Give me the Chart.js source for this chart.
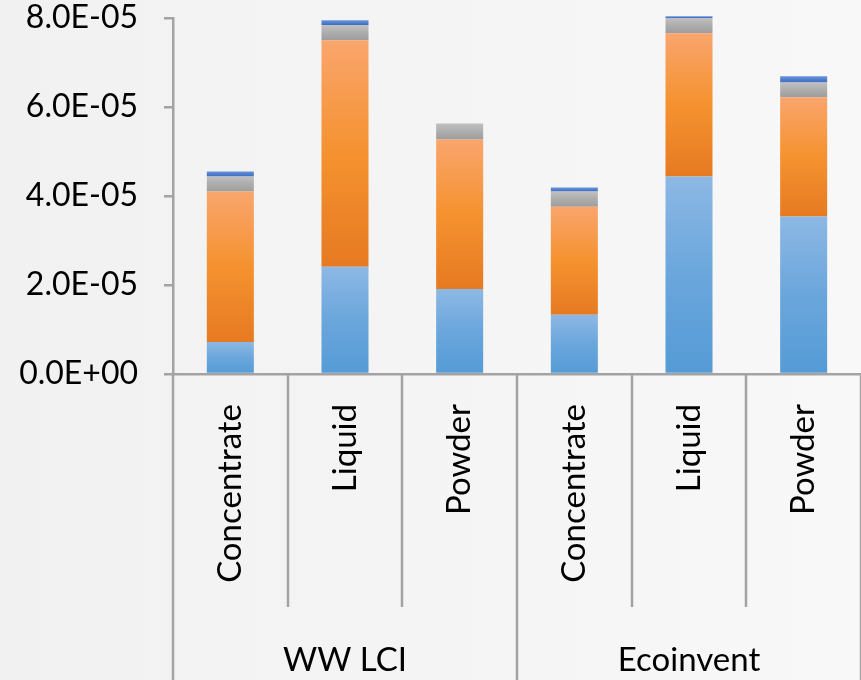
<!DOCTYPE html>
<html>
<head>
<meta charset="utf-8">
<script src="https://cdn.jsdelivr.net/npm/chart.js@4"></script>
<style>
  html, body { margin: 0; padding: 0; }
  body { width: 861px; height: 680px; overflow: hidden; }
  #wrap { position: relative; width: 861px; height: 680px; }
</style>
</head>
<body>
<div id="wrap"><canvas id="chart"></canvas></div>
<script>
// data
const categories = ["Concentrate", "Liquid", "Powder", "Concentrate", "Liquid", "Powder"];
const groups = ["WW LCI", "Ecoinvent"];
const yTicks = [0, 2e-5, 4e-5, 6e-5, 8e-5];

const series1 = [0.72e-5, 2.41e-5, 1.91e-5, 1.33e-5, 4.44e-5, 3.54e-5]; // blue
const series2 = [3.38e-5, 5.09e-5, 3.36e-5, 2.43e-5, 3.22e-5, 2.68e-5]; // orange
const series3 = [0.34e-5, 0.34e-5, 0.36e-5, 0.34e-5, 0.34e-5, 0.33e-5]; // grey
const series4 = [0.11e-5, 0.11e-5, 0, 0.09e-5, 0.04e-5, 0.14e-5];       // dark blue

const allSeries = [series1, series2, series3, series4];

const FONT = "Lato";
const axisColor = "#a3a3a3";

// office-like vertical gradient per bar segment
const gradStops = [
  ["#8db8e4", "#6aa6dc", "#559bd6"],
  ["#f9a56d", "#f5922f", "#e67a22"],
  ["#c0c0c0", "#adadad", "#9d9d9d"],
  ["#6a94db", "#4f7fcf", "#3f6dbe"],
];

function barFill(ctx) {
  const chart = ctx.chart;
  const ds = ctx.datasetIndex;
  const i = ctx.dataIndex;
  const stops = gradStops[ds];
  if (!chart.chartArea || !chart.scales.y || i === undefined) return stops[1];
  let base = 0;
  for (let k = 0; k < ds; k++) base += allSeries[k][i];
  const top = base + allSeries[ds][i];
  const y0 = chart.scales.y.getPixelForValue(base);
  const y1 = chart.scales.y.getPixelForValue(top);
  if (!isFinite(y0) || !isFinite(y1) || y0 === y1) return stops[1];
  const g = chart.ctx.createLinearGradient(0, y1, 0, y0);
  g.addColorStop(0, stops[0]);
  g.addColorStop(0.5, stops[1]);
  g.addColorStop(1, stops[2]);
  return g;
}

function sci(v) {
  if (v === 0) return "0.0E+00";
  let exp = Math.floor(Math.log10(Math.abs(v)) + 1e-9);
  let mant = v / Math.pow(10, exp);
  const sign = exp < 0 ? "-" : "+";
  return mant.toFixed(1) + "E" + sign + String(Math.abs(exp)).padStart(2, "0");
}

// page background
const bgPlugin = {
  id: "bg",
  beforeDraw(chart) {
    const c = chart.ctx;
    const g = c.createLinearGradient(0, 0, chart.width, 0);
    g.addColorStop(0, "#f1f1f1");
    g.addColorStop(1, "#f8f8f8");
    c.save();
    c.fillStyle = g;
    c.fillRect(0, 0, chart.width, chart.height);
    c.restore();
  },
};

// two-level category axis: separators and group names
const groupAxis = {
  id: "groupAxis",
  afterDraw(chart) {
    const c = chart.ctx;
    const x = chart.scales.x;
    const area = chart.chartArea;
    const n = categories.length;
    const step = (area.right - area.left) / n;
    const perGroup = n / groups.length;
    c.save();
    c.strokeStyle = axisColor;
    c.lineWidth = 2.5;
    for (let i = 0; i <= n; i++) {
      const px = Math.round(area.left + i * step);
      const isGroup = i % perGroup === 0;
      c.beginPath();
      c.moveTo(px, area.bottom);
      c.lineTo(px, isGroup ? chart.height : area.bottom + 233);
      c.stroke();
    }
    c.fillStyle = "#000";
    c.font = "33px " + FONT;
    c.textAlign = "center";
    c.textBaseline = "middle";
    groups.forEach((g, gi) => {
      const mid = (x.getPixelForValue(gi * perGroup) + x.getPixelForValue(gi * perGroup + perGroup - 1)) / 2;
      c.fillText(g, mid, 660);
    });
    c.restore();
  },
};

const ctx = document.getElementById("chart").getContext("2d");
const chart = new Chart(ctx, {
  type: "bar",
  data: {
    labels: categories,
    datasets: allSeries.map((s, k) => ({
      label: "Series " + (k + 1),
      data: s,
      backgroundColor: barFill,
      borderWidth: 0,
      barPercentage: 0.41,
      categoryPercentage: 1,
      clip: 10,
    })),
  },
  options: {
    responsive: true,
    maintainAspectRatio: false,
    animation: false,
    layout: { padding: { top: 18, right: 0, left: 0, bottom: 0 } },
    plugins: {
      legend: { display: false },
      tooltip: { enabled: false },
    },
    scales: {
      x: {
        stacked: true,
        afterFit: (s) => { s.height = 306; s.paddingLeft = 0; s.paddingRight = 0; },
        grid: { display: false, drawOnChartArea: false },
        border: { display: true, color: axisColor, width: 2.5 },
        ticks: {
          color: "#000",
          font: { family: FONT, size: 33 },
          minRotation: 90,
          maxRotation: 90,
          padding: 22,
          autoSkip: false,
        },
      },
      y: {
        stacked: true,
        min: 0,
        max: 8e-5,
        afterFit: (s) => { s.width = 173; s.paddingTop = 0; s.paddingBottom = 0; },
        afterBuildTicks: (s) => { s.ticks = yTicks.map((v) => ({ value: v })); },
        grid: {
          drawOnChartArea: false,
          color: axisColor,
          lineWidth: 2.5,
          tickLength: 9,
        },
        border: { display: true, color: axisColor, width: 2.5 },
        ticks: {
          color: "#000",
          font: { family: FONT, size: 32 },
          padding: 26,
          callback: (v) => sci(v),
        },
      },
    },
  },
  plugins: [bgPlugin, groupAxis],
});
</script>
</body>
</html>
